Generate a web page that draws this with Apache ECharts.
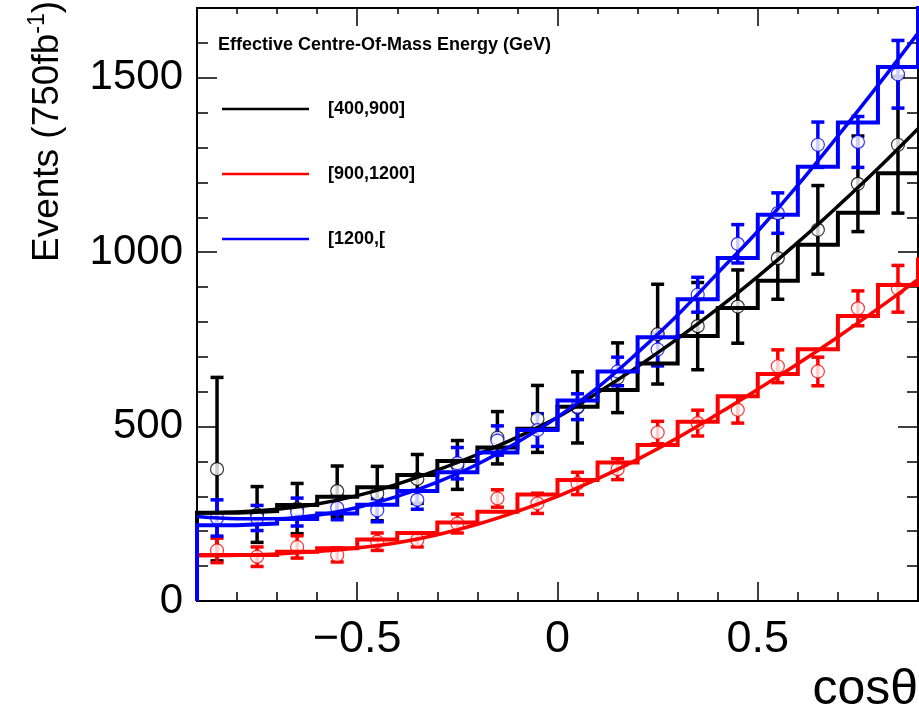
<!DOCTYPE html>
<html>
<head>
<meta charset="utf-8">
<script src="https://cdn.jsdelivr.net/npm/echarts@6/dist/echarts.min.js"></script>
<style>
html,body{margin:0;padding:0;background:#fff;}
#chart{width:919px;height:714px;}
</style>
</head>
<body>
<div id="chart"></div>
<script>
// ---------- data ----------
const seriesNames = ['[400,900]', '[900,1200]', '[1200,['];
const seriesColors = ['#000000', '#ff0000', '#0000ff'];

// bin edges of the histograms (cos theta)
const binEdges = [-0.9,-0.8,-0.7,-0.6,-0.5,-0.4,-0.3,-0.2,-0.1,0,0.1,0.2,0.3,0.4,0.5,0.6,0.7,0.8,0.9];
const binCenters = [-0.85,-0.75,-0.65,-0.55,-0.45,-0.35,-0.25,-0.15,-0.05,0.05,0.15,0.25,0.35,0.45,0.55,0.65,0.75,0.85];

// histograms (step outlines)
const histBlack = [253,258,275,299,326,361,401,440,494,557,605,681,760,840,918,1021,1113,1226];
const histRed   = [132,132,141,151,176,195,225,256,305,347,397,447,514,587,651,722,817,906];
const histBlue  = [217,222,235,251,276,315,369,426,490,575,658,756,865,983,1107,1245,1372,1531];
// value of the next (clipped) bin just past the right edge
const histOverflow = [null, 985, 1800];

// fit curves read at the bin edges
const fitBlack = [253,255,263,278,302,335,375,420,470,527,597,672,752,838,930,1028,1132,1240,1354];
const fitRed   = [130,131,135,142,152,167,190,220,257,300,350,406,468,536,607,680,757,838,922];
const fitBlue  = [242,236,236,246,268,300,341,392,455,527,612,712,820,940,1060,1192,1333,1478,1628];

// data points with errors
const ptsBlack = [378,248,265,315,308,350,390,468,522,555,640,765,788,844,983,1064,1196,1308];
const errBlack = [263,80,72,72,78,70,70,75,96,102,100,143,125,105,118,127,137,196];
const ptsRed   = [145,127,155,132,170,175,222,294,280,337,378,483,510,548,673,658,839,895];
const errRed   = [35,28,32,20,25,20,27,25,29,32,30,32,37,38,47,41,50,67];
const ptsBlue  = [238,238,255,267,260,290,395,460,490,557,658,721,878,1024,1112,1308,1316,1510];
const errBlue  = [52,36,40,34,33,27,45,42,47,37,41,47,50,55,58,65,73,97];

// axes
const xMin = -0.9, xMax = 0.9;
const yMin = 0, yMax = 1700;
const xTickLabels = [-0.5, 0, 0.5];
const xMinorTicks = [-0.8,-0.7,-0.6,-0.4,-0.3,-0.2,-0.1,0.1,0.2,0.3,0.4,0.6,0.7,0.8];
const yTickLabels = [0, 500, 1000, 1500];
const yMinorTicks = [100,200,300,400,600,700,800,900,1100,1200,1300,1400,1600];

const legendTitle = 'Effective Centre-Of-Mass Energy (GeV)';
const xTitle = 'cos\u03b8';

// ---------- build ----------
const FONT = 'Liberation Sans, Arial, Helvetica, sans-serif';
const hists = [histBlack, histRed, histBlue];
const fits = [fitBlack, fitRed, fitBlue];
const pts = [ptsBlack, ptsRed, ptsBlue];
const errs = [errBlack, errRed, errBlue];

function stepData(vals, ovf) {
  const d = [[binEdges[0], 0]];
  for (let i = 0; i < vals.length; i++) {
    d.push([binEdges[i], vals[i]]);
    d.push([binEdges[i + 1], vals[i]]);
  }
  if (ovf != null) d.push([binEdges[binEdges.length - 1], ovf]);
  return d;
}

function errorBarRender(color) {
  return function (params, api) {
    const x = api.value(0), y = api.value(1), e = api.value(2);
    const t = api.coord([x, y + e]);
    const b = api.coord([x, y - e]);
    const cap = 6.5;
    const st = { stroke: color, lineWidth: 3.5 };
    return {
      type: 'group',
      children: [
        { type: 'line', shape: { x1: t[0], y1: t[1], x2: b[0], y2: b[1] }, style: st },
        { type: 'line', shape: { x1: t[0] - cap, y1: t[1], x2: t[0] + cap, y2: t[1] }, style: st },
        { type: 'line', shape: { x1: b[0] - cap, y1: b[1], x2: b[0] + cap, y2: b[1] }, style: st }
      ]
    };
  };
}

const series = [];
for (let k = 0; k < 3; k++) {
  const c = seriesColors[k];
  series.push({
    name: 'hist' + k, type: 'line', data: stepData(hists[k], histOverflow[k]),
    showSymbol: false, symbol: 'none', clip: true, silent: true,
    lineStyle: { color: c, width: 4, join: 'miter' }, animation: false
  });
  series.push({
    name: seriesNames[k], type: 'line',
    data: binEdges.map((x, i) => [x, fits[k][i]]),
    smooth: 0.4, showSymbol: false, symbol: 'none', clip: true,
    itemStyle: { color: c }, lineStyle: { color: c, width: 3.5 }, animation: false
  });
  series.push({
    name: 'err' + k, type: 'custom', clip: true,
    renderItem: errorBarRender(c),
    encode: { x: 0, y: 1 },
    data: binCenters.map((x, i) => [x, pts[k][i], errs[k][i]]),
    animation: false, silent: true
  });
  series.push({
    name: 'pts' + k, type: 'scatter', symbol: 'circle', symbolSize: 13,
    data: binCenters.map((x, i) => [x, pts[k][i]]),
    itemStyle: { color: '#ffffff', borderColor: c, borderWidth: 1.2 },
    animation: false, silent: true, clip: true
  });
}

function xAx(pos, ticks, len, showLabels, extra) {
  return Object.assign({
    type: 'value', position: pos, min: xMin, max: xMax,
    axisLine: { show: false, onZero: false },
    splitLine: { show: false },
    axisTick: { show: true, inside: true, length: len, customValues: ticks, lineStyle: { color: '#000', width: 1.5 } },
    axisLabel: { show: showLabels }
  }, extra || {});
}
function yAx(pos, ticks, len, showLabels, extra) {
  return Object.assign({
    type: 'value', position: pos, min: yMin, max: yMax,
    axisLine: { show: false, onZero: false },
    splitLine: { show: false },
    axisTick: { show: true, inside: true, length: len, customValues: ticks, lineStyle: { color: '#000', width: 1.5 } },
    axisLabel: { show: showLabels }
  }, extra || {});
}

const option = {
  backgroundColor: '#ffffff',
  animation: false,
  textStyle: { fontFamily: FONT },
  title: {
    text: legendTitle, left: 213, top: 31,
    textStyle: { fontFamily: FONT, fontWeight: 'bold', fontSize: 18, color: '#000' }
  },
  legend: {
    data: seriesNames, orient: 'vertical', left: 222, top: 99, padding: 0,
    icon: 'rect', itemWidth: 87, itemHeight: 2.5, itemGap: 45,
    textStyle: { fontFamily: FONT, fontWeight: 'bold', fontSize: 18, color: '#000', lineHeight: 20, padding: [0, 0, 0, 14] },
    selectedMode: false
  },
  grid: {
    left: 197, right: 1, top: 8, bottom: 113,
    show: true, borderColor: '#000', borderWidth: 2, backgroundColor: 'transparent',
    containLabel: false, outerBoundsMode: 'none'
  },
  xAxis: [
    xAx('bottom', xTickLabels, 19, true, {
      name: xTitle, nameLocation: 'end', nameGap: 0, nameMoveOverlap: false,
      nameTextStyle: { fontFamily: FONT, fontSize: 50, color: '#000', align: 'right', verticalAlign: 'top', padding: [64, 0, 0, 0] },
      axisLabel: {
        show: true, customValues: xTickLabels, margin: 16, fontSize: 45, color: '#000', fontFamily: FONT,
        formatter: v => String(v).replace('-', '\u2212')
      }
    }),
    xAx('bottom', xMinorTicks, 9, false),
    xAx('top', xTickLabels, 18, false),
    xAx('top', xMinorTicks, 6, false)
  ],
  yAxis: [
    yAx('left', yTickLabels, 20, true, {
      name: '{m|Events (750fb}{s|-1}{m|)}', nameLocation: 'middle', nameRotate: 90, nameGap: 127, nameMoveOverlap: false,
      nameTextStyle: {
        fontFamily: FONT, fontSize: 37, color: '#000', padding: [0, 0, 0, 346],
        rich: {
          m: { fontFamily: FONT, fontSize: 37, color: '#000', lineHeight: 44 },
          s: { fontFamily: FONT, fontSize: 23, color: '#000', verticalAlign: 'top', lineHeight: 44 }
        }
      },
      axisLabel: {
        show: true, customValues: yTickLabels, margin: 14, fontSize: 42, color: '#000', fontFamily: FONT,
        formatter: v => String(v)
      }
    }),
    yAx('left', yMinorTicks, 11, false),
    yAx('right', yTickLabels, 20, false),
    yAx('right', yMinorTicks, 11, false)
  ],
  series: series
};

const chart = echarts.init(document.getElementById('chart'), null, { renderer: 'canvas' });
chart.setOption(option);
</script>
</body>
</html>
